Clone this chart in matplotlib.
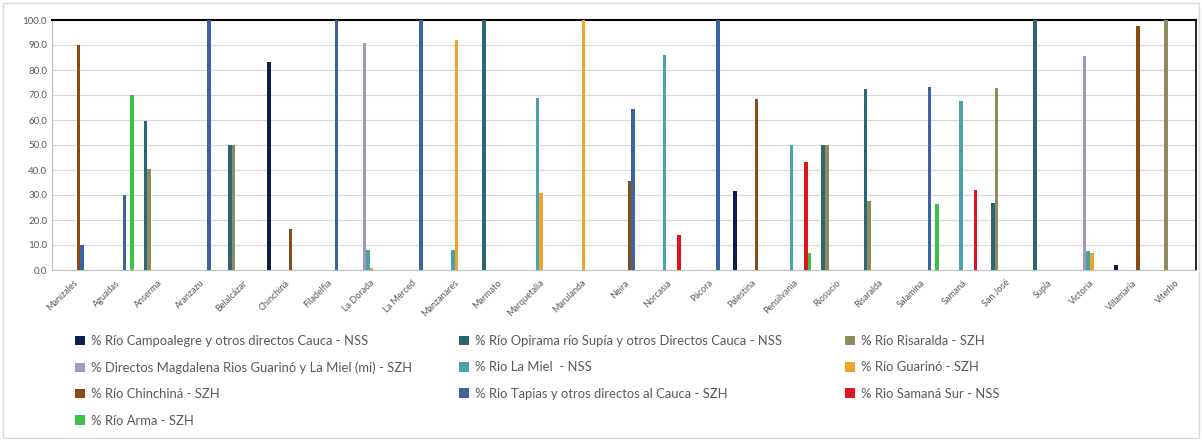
import numpy as np
import matplotlib
matplotlib.use("Agg")
import matplotlib.pyplot as plt
from matplotlib.patches import Patch, Rectangle

plt.rcParams['font.family'] = ['Lato', 'DejaVu Sans']

municipios = ["Manizales", "Aguadas", "Anserma", "Aranzazu", "Belalcázar", "Chinchiná",
              "Filadelfia", "La Dorada", "La Merced", "Manzanares", "Marmato", "Marquetalia",
              "Marulanda", "Neira", "Norcasia", "Pácora", "Palestina", "Pensilvania",
              "Riosucio", "Risaralda", "Salamina", "Samaná", "San José", "Supía",
              "Victoria", "Villamaría", "Viterbo"]

# porcentaje por cuenca (orden de municipios arriba)
campoalegre = [0, 0, 0, 0, 0, 83.4, 0, 0, 0, 0, 0, 0, 0, 0, 0, 0, 31.6, 0, 0, 0, 0, 0, 0, 0, 0, 2.2, 0]
opirama = [0, 0, 59.6, 0, 50, 0, 0, 0, 0, 0, 100, 0, 0, 0, 0, 0, 0, 0, 50, 72.3, 0, 0, 27, 100, 0, 0, 0]
risaralda = [0, 0, 40.4, 0, 50, 0, 0, 0, 0, 0, 0, 0, 0, 0, 0, 0, 0, 0, 50, 27.7, 0, 0, 73, 0, 0, 0, 100]
magdalena = [0, 0, 0, 0, 0, 0, 0, 90.8, 0, 0, 0, 0, 0, 0, 0, 0, 0, 0, 0, 0, 0, 0, 0, 0, 85.5, 0, 0]
la_miel = [0, 0, 0, 0, 0, 0, 0, 8.2, 0, 8, 0, 69, 0, 0, 86, 0, 0, 49.9, 0, 0, 0, 67.8, 0, 0, 7.8, 0, 0]
guarino = [0, 0, 0, 0, 0, 0, 0, 1.0, 0, 92, 0, 31, 100, 0, 0, 0, 0, 0, 0, 0, 0, 0, 0, 0, 6.7, 0, 0]
chinchina = [90.0, 0, 0, 0, 0, 16.6, 0, 0, 0, 0, 0, 0, 0, 35.5, 0, 0, 68.4, 0, 0, 0, 0, 0, 0, 0, 0, 97.8, 0]
tapias = [10.0, 30, 0, 100, 0, 0, 100, 0, 100, 0, 0, 0, 0, 64.5, 0, 100, 0, 0, 0, 0, 73.4, 0, 0, 0, 0, 0, 0]
samana = [0, 0, 0, 0, 0, 0, 0, 0, 0, 0, 0, 0, 0, 0, 14, 0, 0, 43.1, 0, 0, 0, 32.2, 0, 0, 0, 0, 0]
arma = [0, 70, 0, 0, 0, 0, 0, 0, 0, 0, 0, 0, 0, 0, 0, 0, 0, 7, 0, 0, 26.6, 0, 0, 0, 0, 0, 0]

series = [campoalegre, opirama, risaralda, magdalena, la_miel, guarino, chinchina, tapias, samana, arma]
nombres = ["% Río Campoalegre y otros directos Cauca - NSS",
           "% Río Opirama río Supía y otros Directos Cauca - NSS",
           "% Río Risaralda - SZH",
           "% Directos Magdalena Rios Guarinó y La Miel (mi) - SZH",
           "% Rio La Miel  - NSS",
           "% Río Guarinó - SZH",
           "% Río Chinchiná - SZH",
           "% Rio Tapias y otros directos al Cauca - SZH",
           "% Rio Samaná Sur - NSS",
           "% Río Arma - SZH"]
colores = ["#0B1F4E", "#2C6675", "#8E8B5C", "#A496BC", "#4AA3A9",
           "#F0A22A", "#8A4B14", "#3A63A1", "#E0141C", "#3CC245"]

W, H = 1202, 441
fig = plt.figure(figsize=(W / 100, H / 100), dpi=100)
fig.patches.append(Rectangle((3 / W, 3 / H), 1 - 6 / W, 1 - 6 / H, transform=fig.transFigure,
                             fill=False, edgecolor="#D9D9D9", linewidth=1))
ax = fig.add_axes([52 / W, 1 - 270 / H, (1196 - 52) / W, 250 / H])

x = np.arange(len(municipios))
ancho = 0.085
for i in range(len(series)):
    ax.bar(x + (i - 4.5) * ancho, series[i], ancho, color=colores[i], zorder=3)

ax.set_xlim(-0.5, len(municipios) - 0.5)
ax.set_ylim(0, 100)
ax.set_yticks(np.arange(0, 101, 10))
ax.set_yticklabels(["%.1f" % v for v in np.arange(0, 101, 10)])
ax.set_xticks(x)
ax.set_xticklabels(municipios, rotation=45, ha='right', rotation_mode='anchor')
ax.tick_params(axis='both', length=0, labelsize=7, colors="#595959")
ax.tick_params(axis='x', pad=6, labelsize=6.5)
ax.grid(axis='y', color="#D9D9D9", linewidth=0.8, zorder=0)

ax.spines['top'].set_color("black")
ax.spines['top'].set_linewidth(1.5)
ax.spines['right'].set_color("black")
ax.spines['right'].set_linewidth(1.2)
ax.spines['left'].set_color("#BFBFBF")
ax.spines['left'].set_linewidth(0.8)
ax.spines['bottom'].set_color("#BFBFBF")
ax.spines['bottom'].set_linewidth(0.8)

# leyenda en tres columnas, se llena por filas
columnas = [[0, 3, 6, 9], [1, 4, 7], [2, 5, 8]]
xs = [75, 459, 845]
for col, xc in zip(columnas, xs):
    handles = [Patch(facecolor=colores[k], edgecolor='none') for k in col]
    etiquetas = [nombres[k] for k in col]
    leg = fig.legend(handles, etiquetas, loc='upper left', bbox_to_anchor=(xc / W, 1 - 335 / H),
                     frameon=False, fontsize=9.4, handlelength=0.75, handleheight=0.75,
                     handletextpad=0.5, labelspacing=1.1, borderpad=0, borderaxespad=0)
    for t in leg.get_texts():
        t.set_color("#595959")

fig.savefig("out.png", dpi=100)
